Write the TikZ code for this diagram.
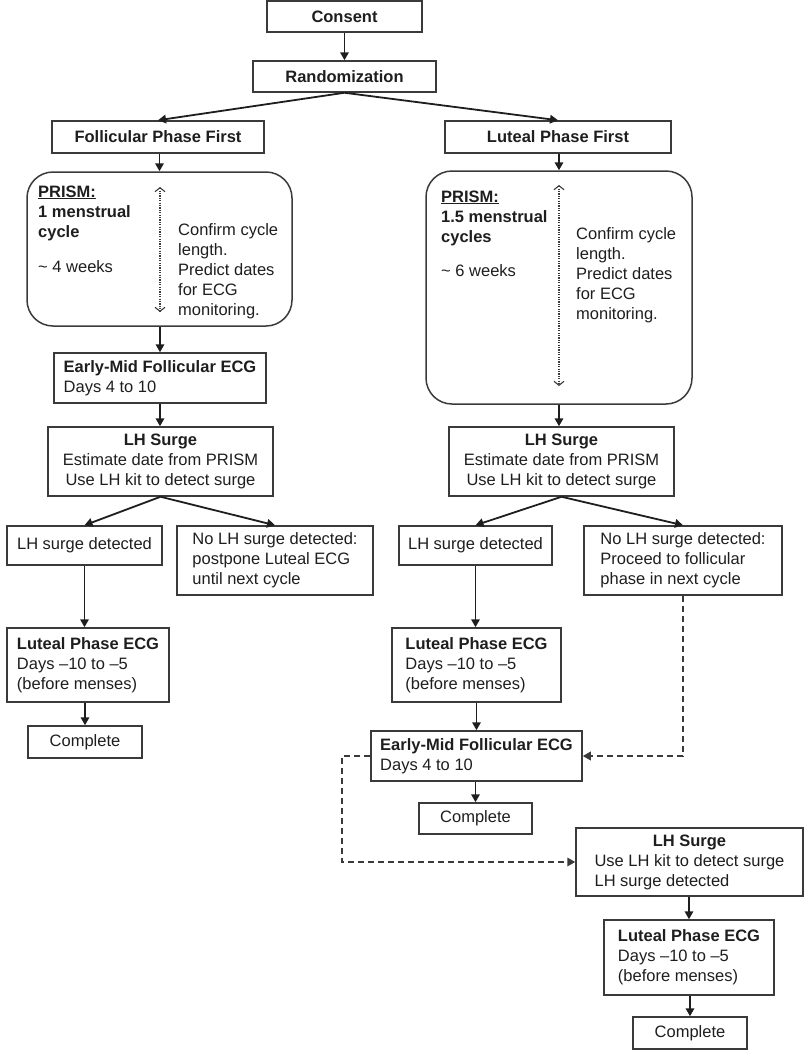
\documentclass[tikz,border=0pt]{standalone}
\usepackage{fontspec}
\setmainfont{Liberation Sans}
\usetikzlibrary{arrows.meta}
\definecolor{ink}{HTML}{1E1E1E}
\definecolor{edge}{HTML}{3A3A3A}
\begin{document}
\begin{tikzpicture}[x=1pt,y=-1pt,
  every node/.style={font=\fontsize{16.5}{20}\selectfont, text=ink},
  box/.style={draw=edge, line width=1.5pt, rectangle, inner sep=1pt, align=left},
  rbox/.style={draw=edge, line width=1.5pt, rectangle, rounded corners=26pt, inner sep=0pt},
  arr/.style={draw=ink, line width=1.8pt, -{Triangle[length=8pt,width=8.5pt]}},
  darr/.style={draw=edge, line width=1.8pt, dash pattern=on 6pt off 4pt, -{Triangle[length=8pt,width=8.5pt]}},
  dbl/.style={draw=edge, line width=1.1pt, dash pattern=on 1.2pt off 1.2pt, {Straight Barb[length=4pt,width=10pt]}-{Straight Barb[length=4pt,width=10pt]}},
  txt/.style={inner sep=0pt, anchor=base west, align=left}
]
\useasboundingbox (0,0) rectangle (805,1050);

% top
\node[box, minimum width=155, minimum height=31] (consent) at (344.5,16.5) {\textbf{Consent}};
\node[box, minimum width=183, minimum height=31] (random) at (344.5,76.5) {\textbf{Randomization}};
\node[box, minimum width=212, minimum height=32] (folfirst) at (158,137) {\textbf{Follicular Phase First}};
\node[box, minimum width=226, minimum height=32] (lutfirst) at (558,137) {\textbf{Luteal Phase First}};

% left PRISM (base anchor = baseline of last line)
\node[rbox, minimum width=265, minimum height=154] (prismL) at (159.5,249) {};
\node[txt] (prismLt) at (38,237) {\underline{\textbf{PRISM:}}\\\textbf{1 menstrual}\\\textbf{cycle}};
\node[txt] (prismLw) at (38,272) {\textasciitilde{} 4 weeks};
\node[txt] (prismLc) at (178,315) {Confirm cycle\\length.\\Predict dates\\for ECG\\monitoring.};
\coordinate (dLa) at (160,187);
\coordinate (dLb) at (160,312);
\draw[dbl] (dLa) -- (dLb);

% right PRISM
\node[rbox, minimum width=266, minimum height=233] (prismR) at (559,287.5) {};
\node[txt] (prismRt) at (441,242) {\underline{\textbf{PRISM:}}\\\textbf{1.5 menstrual}\\\textbf{cycles}};
\node[txt] (prismRw) at (441,276) {\textasciitilde{} 6 weeks};
\node[txt] (prismRc) at (576,319) {Confirm cycle\\length.\\Predict dates\\for ECG\\monitoring.};
\coordinate (dRa) at (559,185);
\coordinate (dRb) at (559,386);
\draw[dbl] (dRa) -- (dRb);

% left branch
\node[box, minimum width=212, minimum height=50] (emfL) at (160,378) {\textbf{Early-Mid Follicular ECG}\\Days 4 to 10};
\node[box, align=center, minimum width=225, minimum height=69] (lhsL) at (160.5,461.5) {\textbf{LH Surge}\\Estimate date from PRISM\\Use LH kit to detect surge};
\node[box, minimum width=155, minimum height=39] (detL) at (84.5,545.5) {LH surge detected};
\node[box, minimum width=196, minimum height=69] (noL) at (275,560.5) {No LH surge detected:\\postpone Luteal ECG\\until next cycle};
\node[box, minimum width=162, minimum height=74] (lutL) at (88,665) {\textbf{Luteal Phase ECG}\\Days –10 to –5\\(before menses)};
\node[box, minimum width=114, minimum height=32] (compL) at (85,742) {Complete};

% right branch
\node[box, align=center, minimum width=225, minimum height=69] (lhsR) at (561.5,461.5) {\textbf{LH Surge}\\Estimate date from PRISM\\Use LH kit to detect surge};
\node[box, minimum width=153, minimum height=39] (detR) at (475.5,545.5) {LH surge detected};
\node[box, minimum width=198, minimum height=69] (noR) at (683,560.5) {No LH surge detected:\\Proceed to follicular\\phase in next cycle};
\node[box, minimum width=169, minimum height=74] (lutR) at (476.5,665) {\textbf{Luteal Phase ECG}\\Days –10 to –5\\(before menses)};
\node[box, minimum width=211, minimum height=50] (emfR) at (476.5,756) {\textbf{Early-Mid Follicular ECG}\\Days 4 to 10};
\node[box, minimum width=113, minimum height=31] (compR) at (475.5,818.5) {Complete};
\node[box, minimum width=227, minimum height=68] (lhsB) at (689.5,862) {\begin{tabular}{@{}l@{}}\multicolumn{1}{@{}c@{}}{\textbf{LH Surge}}\\Use LH kit to detect surge\\LH surge detected\end{tabular}};
\node[box, minimum width=170, minimum height=75] (lutB) at (689,957.5) {\textbf{Luteal Phase ECG}\\Days –10 to –5\\(before menses)};
\node[box, minimum width=114, minimum height=32] (compB) at (690,1033) {Complete};

% connectors
\draw[arr] (consent) -- (random);
\draw[arr] (random.south) -- (folfirst.north);
\draw[arr] (random.south) -- (lutfirst.north);
\draw[arr] (prismL.north |- folfirst.south) -- (prismL.north);
\draw[arr] (emfL.north |- prismL.south) -- (emfL.north);
\draw[arr] (emfL.south) -- (emfL.south |- lhsL.north);
\draw[arr] (lhsL.south) -- (detL.north);
\draw[arr] (lhsL.south) -- (noL.north);
\draw[arr] (detL.south) -- (detL.south |- lutL.north);
\draw[arr] (compL.north |- lutL.south) -- (compL.north);

\draw[arr] (prismR.north |- lutfirst.south) -- (prismR.north);
\draw[arr] (prismR.south) -- (prismR.south |- lhsR.north);
\draw[arr] (lhsR.south) -- (detR.north);
\draw[arr] (lhsR.south) -- (noR.north);
\draw[arr] (detR.south) -- (detR.south |- lutR.north);
\draw[arr] (lutR.south) -- (lutR.south |- emfR.north);
\draw[arr] (compR.north |- emfR.south) -- (compR.north);
\draw[darr] (noR.south) |- (emfR.east);
\draw[darr] (emfR.west) -- ++(-28,0) |- (lhsB.west);
\draw[arr] (lutB.north |- lhsB.south) -- (lutB.north);
\draw[arr] (compB.north |- lutB.south) -- (compB.north);
\end{tikzpicture}
\end{document}
